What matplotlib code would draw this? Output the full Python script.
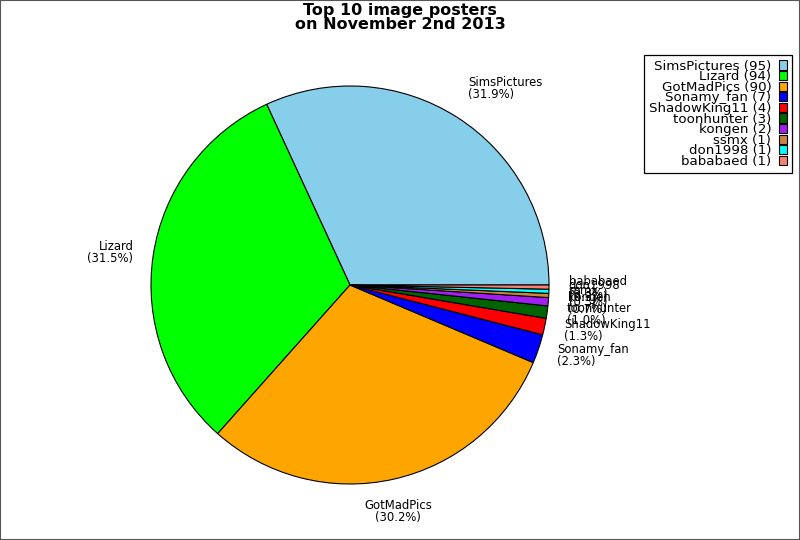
import numpy as np
import matplotlib.pyplot as plt
from matplotlib.patches import Rectangle, Patch

names = ['SimsPictures', 'Lizard', 'GotMadPics', 'Sonamy_fan', 'ShadowKing11',
         'toonhunter', 'kongen', 'ssmx', 'don1998', 'bababaed']
counts = [95, 94, 90, 7, 4, 3, 2, 1, 1, 1]
colors = ['#87ceeb', '#00ff00', '#ffa500', '#0000ff', '#ff0000',
          '#006400', '#a020f0', '#cd853f', '#00ffff', '#fa8072']

plt.rcParams['font.family'] = ['DejaVu Sans']

fig = plt.figure(figsize=(8, 5.4), dpi=100)
ax = fig.add_axes([0, 0, 1, 1])
ax.axis('off')

# pie centre at (350, 285) px, radius ~199 px
R = 199.0
wedges, _ = ax.pie(counts, colors=colors, startangle=0, counterclock=True,
                   radius=1.0, wedgeprops=dict(edgecolor='black', linewidth=0.8))
ax.set_xlim(-350 / R, 450 / R)
ax.set_ylim(-(540 - 285) / R, 285 / R)
ax.set_aspect('auto')

total = sum(counts)
for w, n, c in zip(wedges, names, counts):
    mid = np.deg2rad((w.theta1 + w.theta2) / 2)
    cx, sy = np.cos(mid), np.sin(mid)
    x, y = 1.1 * cx, 1.1 * sy
    if abs(cx) < 0.3:
        ha = 'center'
    elif cx > 0:
        ha = 'left'
    else:
        ha = 'right'
    if sy > 0.5:
        va = 'bottom'
    elif sy < -0.5:
        va = 'top'
    else:
        va = 'center'
    ax.text(x, y, '%s\n(%.1f%%)' % (n, 100.0 * c / total), ha=ha, va=va,
            fontsize=8.4, linespacing=0.9, multialignment=ha)

handles = [Patch(facecolor=col, edgecolor='black', linewidth=0.8) for col in colors]
labels = ['%s (%d)' % (n, c) for n, c in zip(names, counts)]
leg = fig.legend(handles, labels, loc='upper right',
                 bbox_to_anchor=(792 / 800, 1 - 55 / 540),
                 markerfirst=False, fontsize=9.6, labelspacing=-0.18, handlelength=0.6,
                 handleheight=0.68, handletextpad=0.6, borderpad=0.35, fancybox=False,
                 framealpha=1, edgecolor='black', borderaxespad=0)
leg.get_frame().set_linewidth(0.9)

fig.suptitle('Top 10 image posters\non November 2nd 2013', fontsize=11.5, fontweight='bold',
             y=0.994, va='top', linespacing=0.92)

fig.patches.append(Rectangle((0, 0), 1, 1, transform=fig.transFigure, fill=False,
                             edgecolor='#555555', linewidth=1.5))

fig.savefig('out.png', dpi=100)
